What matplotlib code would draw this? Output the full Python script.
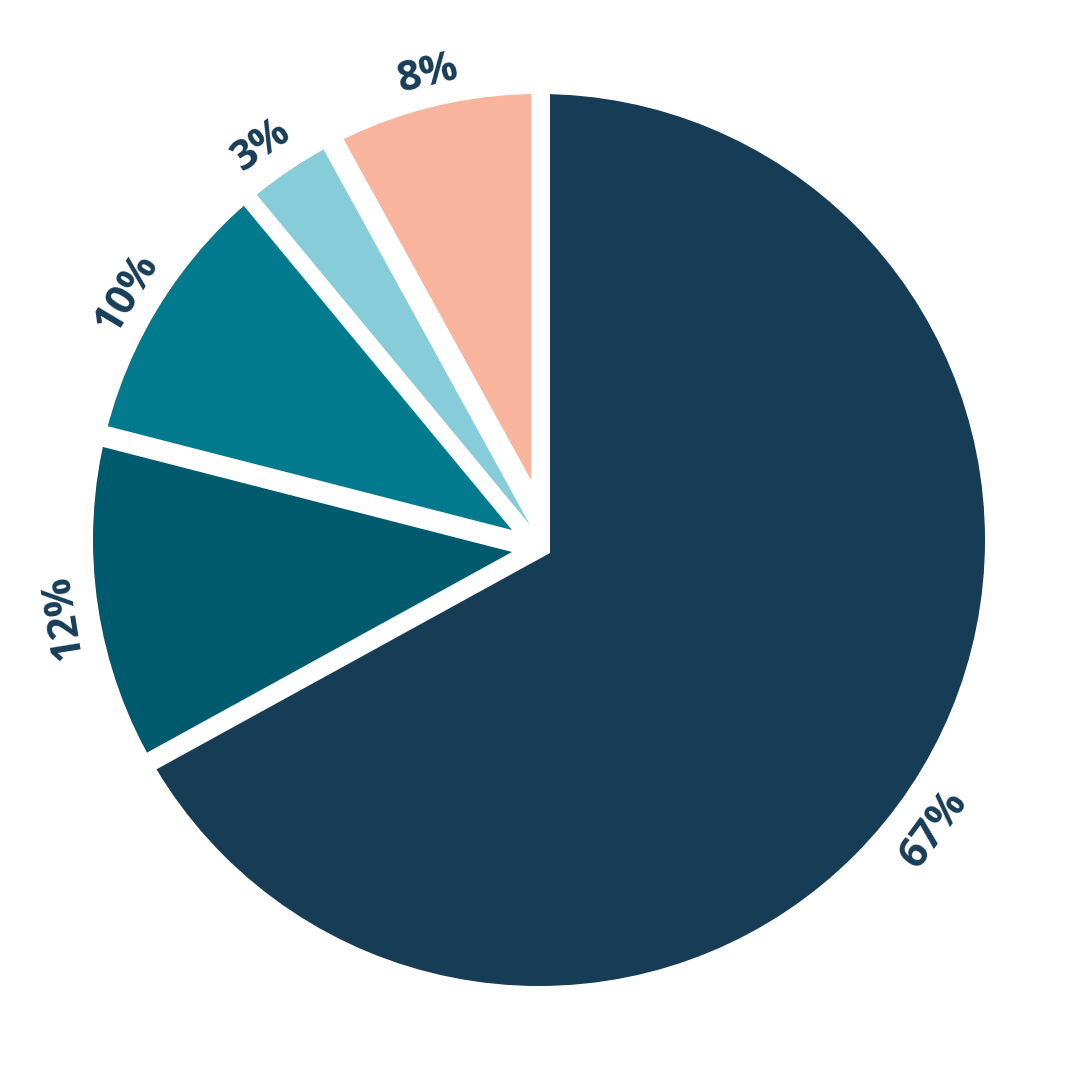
import matplotlib
matplotlib.use("Agg")
import matplotlib.pyplot as plt
from matplotlib.patches import Circle
import numpy as np

# Data
labels = ["67%", "12%", "10%", "3%", "8%"]
values = [67, 12, 10, 3, 8]
colors = ["#163C56", "#005A6E", "#007A8C", "#86CCD9", "#F8B49C"]

# style: apex shift of each wedge (px, y up) to open white gaps; label nudges
wedge_shift = [(11, -13), (-27, -12), (-27, 10), (-9, 15), (-8, 60)]
label_nudge = [-5.6, 2.0, 1.5, 1.0, -1.0]
label_r = [490, 482, 480, 482, 478]

fig = plt.figure(figsize=(10.8, 10.8), dpi=100)
ax = fig.add_axes([0, 0, 1, 1])

cx, cy, R = 539, 540, 446
wedges, _ = ax.pie(values, colors=colors, startangle=90, counterclock=False,
                   center=(cx, cy), radius=R, frame=True,
                   wedgeprops=dict(linewidth=0, edgecolor="none"))
ax.set_xlim(0, 1080)
ax.set_ylim(0, 1080)
ax.set_aspect("equal")
ax.axis("off")

clip = Circle((cx, cy), R + 3, facecolor="none", edgecolor="none", linewidth=0)
ax.add_patch(clip)
for w, (dx, dy) in zip(wedges, wedge_shift):
    w.set_center((cx + dx, cy + dy))
    w.set_radius(R + 150)
    w.set_clip_on(True)
    w.set_clip_path(clip)

# white antialiased rim to smooth the clipped outline (inner edge at R)
ax.add_patch(Circle((cx, cy), R + 4, facecolor="none", edgecolor="white",
                    linewidth=5.76, zorder=3, antialiased=True))

for w, lab, nd, rl in zip(wedges, labels, label_nudge, label_r):
    mid = (w.theta1 + w.theta2) / 2 + nd
    x = cx + rl * np.cos(np.radians(mid))
    y = cy + rl * np.sin(np.radians(mid))
    rot = mid - 90
    rot = (rot + 180) % 360 - 180
    if rot < -90:
        rot += 180
    ax.text(x, y, lab, rotation=rot, rotation_mode="anchor", ha="center", va="center",
            fontsize=30, fontweight="bold", color="#173D58", family="Open Sans",
            zorder=4)

fig.savefig("out.png", dpi=100)
